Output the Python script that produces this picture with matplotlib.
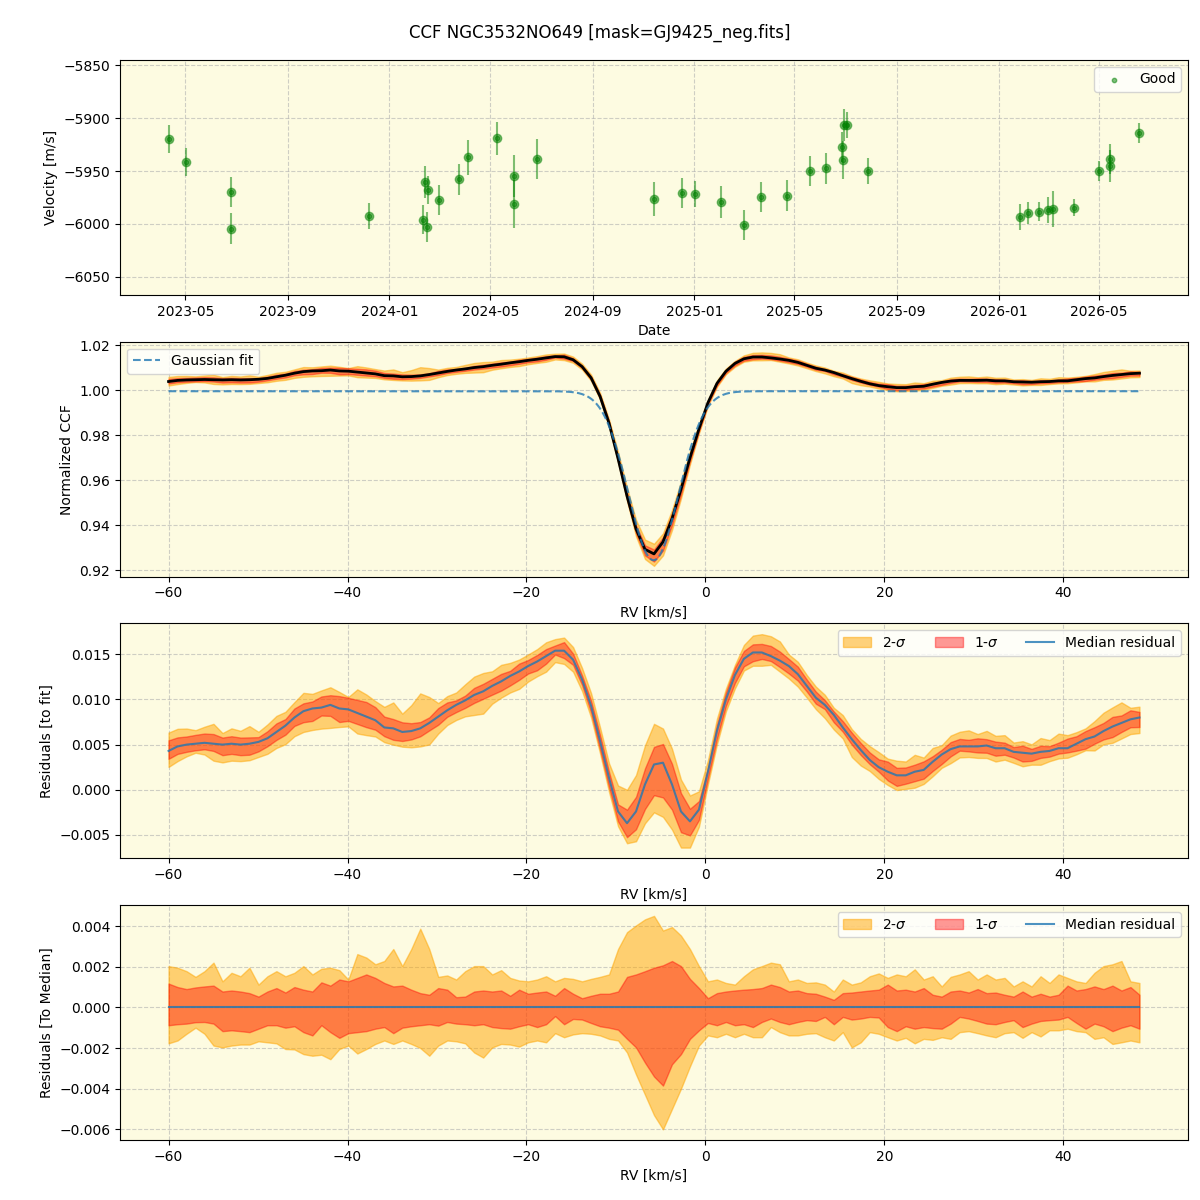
import numpy as np
import pandas as pd
import matplotlib
matplotlib.use("Agg")
import matplotlib.pyplot as plt
import matplotlib.dates as mdates

# RV time series
obs_dates = ['2023-04-11', '2023-05-02', '2023-06-25', '2023-06-25', '2023-12-08',
             '2024-02-10', '2024-02-13', '2024-02-16', '2024-02-15', '2024-03-01',
             '2024-03-25', '2024-04-04', '2024-05-09', '2024-05-29', '2024-05-29',
             '2024-06-26', '2024-11-14', '2024-12-17', '2025-01-02', '2025-02-02',
             '2025-03-01', '2025-03-22', '2025-04-22', '2025-05-20', '2025-06-08',
             '2025-06-27', '2025-06-28', '2025-06-30', '2025-07-03', '2025-07-28',
             '2026-01-27', '2026-02-05', '2026-02-18', '2026-03-01', '2026-03-07',
             '2026-04-02', '2026-05-01', '2026-05-15', '2026-05-15', '2026-06-19']
velocity = [-5919.8, -5941.5, -5969.8, -6004.7, -5992.5,
            -5996.2, -5960.4, -5967.9, -6002.8, -5977.4,
            -5957.6, -5936.8, -5918.9, -5954.7, -5981.1,
            -5938.4, -5976.4, -5970.8, -5971.7, -5979.3,
            -6001.0, -5974.5, -5973.3, -5950.0, -5947.2,
            -5927.4, -5939.6, -5906.6, -5906.6, -5950.0,
            -5993.4, -5989.6, -5988.7, -5986.8, -5986.2,
            -5984.6, -5950.0, -5945.3, -5938.7, -5914.2]
vel_err = [13.5, 13.0, 14.6, 14.6, 12.7,
           13.7, 15.0, 12.9, 14.2, 14.6,
           14.6, 16.5, 15.6, 20.0, 23.0,
           18.9, 16.5, 14.3, 12.3, 14.8,
           14.5, 14.0, 14.5, 14.6, 14.6,
           14.5, 18.0, 15.0, 12.0, 12.7,
           12.7, 10.8, 9.0, 12.3, 17.0,
           8.0, 9.4, 15.0, 14.0, 9.3]

# CCF grid, -60 .. 48.5 km/s
rv = np.linspace(-60, 48.5, 109)

# Gaussian fit parameters
fit_cont, fit_amp, fit_center, fit_sigma = 0.9995, 0.075, -5.8, 2.8

# median residual to the fit (units of 1e-3)
med_resid = [4.3, 4.8, 5.0, 5.1, 5.2, 5.1, 5.0, 5.1, 5.0, 5.1,
             5.3, 5.7, 6.4, 7.1, 8.0, 8.7, 9.0, 9.1, 9.4, 9.0,
             8.9, 8.5, 8.1, 7.7, 6.9, 6.8, 6.4, 6.5, 6.8, 7.4,
             8.1, 8.8, 9.4, 9.9, 10.5, 10.9, 11.5, 12.0, 12.6, 13.1,
             13.7, 14.2, 14.8, 15.4, 15.4, 14.4, 12.2, 9.3, 5.4, 1.3,
             -2.4, -3.7, -2.4, 0.6, 2.8, 3.0, 0.6, -2.4, -3.5, -2.2,
             2.0, 6.5, 10.0, 12.7, 14.5, 15.2, 15.2, 14.8, 14.3, 13.7,
             12.8, 11.5, 10.2, 9.4, 8.3, 6.9, 5.6, 4.4, 3.3, 2.5,
             2.0, 1.6, 1.6, 2.0, 2.2, 3.1, 3.9, 4.5, 4.8, 4.8,
             4.8, 4.9, 4.6, 4.6, 4.2, 4.1, 4.0, 4.2, 4.3, 4.6,
             4.6, 5.1, 5.6, 5.9, 6.5, 7.0, 7.4, 7.8, 8.0]

# percentile bands relative to the median (units of 1e-3)
sig2_hi = [2.03, 1.95, 1.78, 1.50, 1.78, 2.20, 1.28, 1.70, 1.53, 1.95,
           1.12, 1.53, 1.78, 1.53, 1.70, 2.03, 1.62, 1.90, 1.95, 1.83,
           1.37, 2.62, 2.45, 2.12, 2.28, 2.87, 2.03, 2.87, 3.87, 2.87,
           1.50, 1.57, 1.37, 1.78, 2.03, 2.03, 1.62, 1.83, 1.45, 1.32,
           1.28, 1.37, 1.53, 1.28, 1.45, 1.40, 1.28, 1.40, 1.50, 1.62,
           2.87, 3.70, 4.03, 4.33, 4.50, 3.78, 3.95, 3.53, 2.87, 2.03,
           1.28, 1.37, 1.20, 1.12, 1.53, 1.87, 2.03, 2.20, 2.12, 1.28,
           1.37, 1.20, 1.23, 1.12, 0.78, 1.37, 1.12, 1.23, 1.53, 1.67,
           1.45, 1.62, 1.53, 1.87, 1.37, 1.53, 1.03, 1.50, 1.62, 1.78,
           1.37, 1.62, 1.37, 1.45, 1.03, 1.28, 1.03, 1.53, 1.20, 1.62,
           1.45, 1.28, 1.20, 1.70, 2.03, 2.12, 2.28, 1.28, 1.20]
sig1_hi = [1.17, 1.00, 0.90, 0.98, 1.03, 1.07, 0.78, 0.83, 0.78, 0.70,
           0.53, 0.78, 0.95, 0.73, 1.00, 0.87, 0.78, 1.23, 1.07, 1.37,
           1.28, 1.45, 1.62, 1.45, 1.20, 1.03, 1.07, 0.87, 0.70, 0.62,
           0.95, 0.87, 0.50, 0.53, 0.78, 0.83, 0.78, 0.83, 0.57, 0.87,
           0.67, 0.73, 0.78, 0.57, 0.95, 0.67, 0.45, 0.57, 0.67, 0.67,
           0.78, 1.50, 1.62, 1.78, 1.95, 2.07, 2.28, 2.03, 1.40, 0.95,
           0.45, 0.70, 0.78, 0.83, 0.87, 0.90, 0.95, 1.12, 1.00, 0.78,
           0.83, 0.70, 0.67, 0.53, 0.37, 0.70, 0.73, 0.78, 0.83, 0.87,
           1.12, 0.83, 0.87, 0.78, 0.95, 0.62, 0.53, 0.78, 0.83, 0.73,
           0.90, 0.70, 0.73, 0.62, 0.53, 0.78, 0.53, 0.67, 0.53, 0.62,
           1.07, 0.83, 0.90, 1.03, 0.90, 1.07, 0.83, 1.00, 0.62]
sig1_lo = [-0.88, -0.83, -0.80, -0.73, -0.72, -0.80, -1.17, -1.13, -1.17, -1.22,
           -1.05, -0.88, -0.88, -1.00, -0.93, -1.22, -1.38, -0.88, -1.22, -1.50,
           -1.27, -1.22, -1.17, -1.05, -0.97, -1.27, -1.00, -0.93, -0.88, -0.83,
           -0.90, -0.72, -0.80, -0.83, -0.88, -0.83, -0.97, -1.02, -1.05, -0.93,
           -0.83, -0.97, -0.83, -0.43, -0.83, -0.57, -0.60, -0.77, -0.93, -1.00,
           -1.10, -1.55, -1.97, -2.72, -3.40, -3.85, -2.80, -2.30, -1.55, -1.13,
           -0.77, -0.88, -0.72, -0.88, -0.83, -0.97, -0.72, -0.55, -0.72, -0.83,
           -0.72, -0.63, -0.67, -0.47, -0.83, -0.47, -0.60, -0.55, -0.47, -0.50,
           -0.97, -1.17, -0.93, -1.05, -0.97, -1.02, -1.05, -0.80, -0.47, -0.55,
           -0.67, -0.80, -0.83, -0.72, -0.63, -0.97, -0.80, -0.67, -0.63, -0.60,
           -0.47, -0.77, -1.05, -0.80, -0.93, -1.17, -1.00, -0.88, -1.05]
sig2_lo = [-1.77, -1.63, -1.30, -1.00, -1.30, -1.88, -1.97, -1.88, -1.83, -1.83,
           -1.67, -1.72, -1.77, -2.05, -2.07, -2.30, -2.38, -2.33, -2.55, -2.05,
           -1.88, -2.27, -2.05, -1.80, -1.63, -1.80, -1.63, -1.80, -2.00, -2.38,
           -1.88, -1.63, -1.67, -1.77, -2.22, -2.47, -1.97, -1.80, -1.83, -1.93,
           -1.72, -1.63, -1.72, -1.27, -1.47, -1.33, -1.27, -1.30, -1.38, -1.55,
           -1.63, -2.22, -3.30, -4.30, -5.30, -6.00, -5.00, -4.00, -2.90, -1.88,
           -1.38, -1.47, -1.30, -1.47, -1.30, -1.47, -1.47, -0.97, -1.22, -1.38,
           -1.38, -1.30, -1.27, -1.47, -1.63, -1.22, -1.97, -1.72, -1.22, -1.30,
           -1.47, -1.63, -1.50, -1.77, -1.55, -1.60, -1.47, -1.55, -1.22, -1.17,
           -1.27, -1.38, -1.47, -1.27, -1.22, -1.50, -1.22, -1.43, -1.13, -1.13,
           -1.05, -1.17, -1.22, -1.55, -1.47, -1.80, -1.72, -1.63, -1.72]

bg = '#fdfbe1'

def gauss(x):
    return fit_cont - fit_amp * np.exp(-(x - fit_center) ** 2 / (2 * fit_sigma ** 2))

med = np.array(med_resid) * 1e-3
s2h = np.array(sig2_hi) * 1e-3
s1h = np.array(sig1_hi) * 1e-3
s1l = np.array(sig1_lo) * 1e-3
s2l = np.array(sig2_lo) * 1e-3
ccf = gauss(rv) + med

fig, axes = plt.subplots(4, 1, figsize=(12, 12), dpi=100)
fig.subplots_adjust(left=0.1, right=0.99, top=0.95, bottom=0.05, hspace=0.2)
fig.suptitle('CCF NGC3532NO649 [mask=GJ9425_neg.fits]', fontsize=12)

for ax in axes:
    ax.set_facecolor(bg)
    ax.grid(True, linestyle='--', alpha=0.6)
    ax.set_axisbelow(True)

# time series
ax = axes[0]
t = pd.to_datetime(obs_dates)
ax.errorbar(t, velocity, yerr=vel_err, fmt='o', color='green', alpha=0.5,
            ms=6, elinewidth=1.5)
ax.scatter(t, velocity, s=10, color='green', alpha=0.5, label='Good')
ax.set_ylim(-6067, -5845)
ax.xaxis.set_major_locator(mdates.MonthLocator(bymonth=[1, 5, 9]))
ax.xaxis.set_major_formatter(mdates.DateFormatter('%Y-%m'))
ax.set_xlabel('Date')
ax.set_ylabel('Velocity [m/s]')
ax.legend(loc='upper right')

# CCF
ax = axes[1]
ax.fill_between(rv, ccf + s2l, ccf + s2h, color='orange', alpha=0.5)
ax.fill_between(rv, ccf + s1l, ccf + s1h, color='red', alpha=0.4)
ax.plot(rv, ccf, color='black', lw=2)
rv_fine = np.linspace(rv[0], rv[-1], 600)
ax.plot(rv_fine, gauss(rv_fine), '--', color='C0', alpha=0.8, lw=1.5, label='Gaussian fit')
ax.set_xlabel('RV [km/s]')
ax.set_ylabel('Normalized CCF')
ax.legend(loc='upper left')

# residuals to fit
ax = axes[2]
ax.fill_between(rv, med + s2l, med + s2h, color='orange', alpha=0.5, label='2-$\\sigma$')
ax.fill_between(rv, med + s1l, med + s1h, color='red', alpha=0.4, label='1-$\\sigma$')
ax.plot(rv, med, color='C0', alpha=0.8, lw=1.5, label='Median residual')
ax.set_xlabel('RV [km/s]')
ax.set_ylabel('Residuals [to fit]')
ax.legend(loc='upper right', ncol=3)

# residuals to median
ax = axes[3]
ax.fill_between(rv, s2l, s2h, color='orange', alpha=0.5, label='2-$\\sigma$')
ax.fill_between(rv, s1l, s1h, color='red', alpha=0.4, label='1-$\\sigma$')
ax.plot(rv, np.zeros_like(rv), color='C0', alpha=0.8, lw=1.5, label='Median residual')
ax.set_xlabel('RV [km/s]')
ax.set_ylabel('Residuals [To Median]')
ax.legend(loc='upper right', ncol=3)

fig.savefig('out.png', dpi=100)
